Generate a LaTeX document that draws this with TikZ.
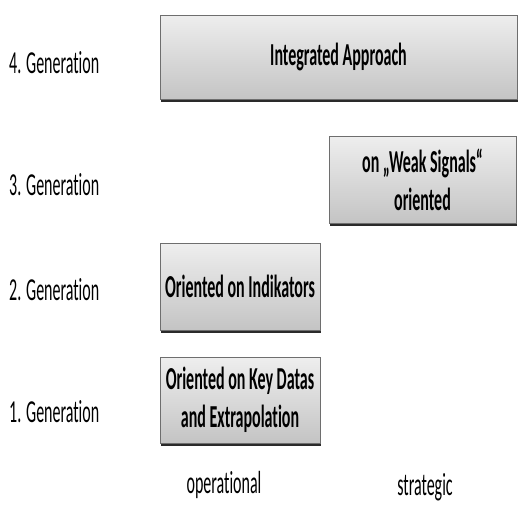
\documentclass[tikz,border=0pt]{standalone}
\usepackage{fontspec}
\usetikzlibrary{shadows}
\newfontfamily\cfr[FakeStretch=0.5,Ligatures={NoCommon}]{Carlito}
\newfontfamily\cfb[FakeStretch=0.5,Ligatures={NoCommon}]{Carlito Bold}
\definecolor{boxtop}{HTML}{EEEEEE}
\definecolor{boxbot}{HTML}{C4C4C4}
\definecolor{boxline}{HTML}{6E6E6E}
\definecolor{shadowc}{HTML}{2A2A2A}
\begin{document}
\begin{tikzpicture}[x=1pt,y=-1pt,
  genbox/.style={rectangle, top color=boxtop, bottom color=boxbot, draw=boxline, line width=0.8pt,
    align=center, inner sep=0pt, font=\fontsize{32}{38}\selectfont\cfb,
    general shadow={shadow xshift=1pt, shadow yshift=-3pt, fill=shadowc}},
  genlabel/.style={anchor=west, inner sep=0pt, font=\fontsize{32}{38}\selectfont\cfr},
  axlabel/.style={inner sep=0pt, font=\fontsize{32}{38}\selectfont\cfr}]
\useasboundingbox (0,0) rectangle (518,504);
\node[genbox, minimum width=357pt, minimum height=84pt] (g4) at (338.5,57) {Integrated Approach};
\node[genbox, minimum width=187pt, minimum height=87pt] (g3) at (422.5,179.5) {on „Weak Signals“\\oriented};
\node[genbox, minimum width=160pt, minimum height=87pt] (g2) at (240,286.5) {Oriented on Indikators};
\node[genbox, minimum width=160pt, minimum height=86pt] (g1) at (240,400) {Oriented on Key Datas\\and Extrapolation};
\node[genlabel] (l4) at (9,63) {4. Generation};
\node[genlabel] (l3) at (9,185) {3. Generation};
\node[genlabel] (l2) at (9,290) {2. Generation};
\node[genlabel] (l1) at (9,412) {1. Generation};
\node[axlabel] (op) at (224,485) {operational};
\node[axlabel] (st) at (425,487) {strategic};
\end{tikzpicture}
\end{document}
